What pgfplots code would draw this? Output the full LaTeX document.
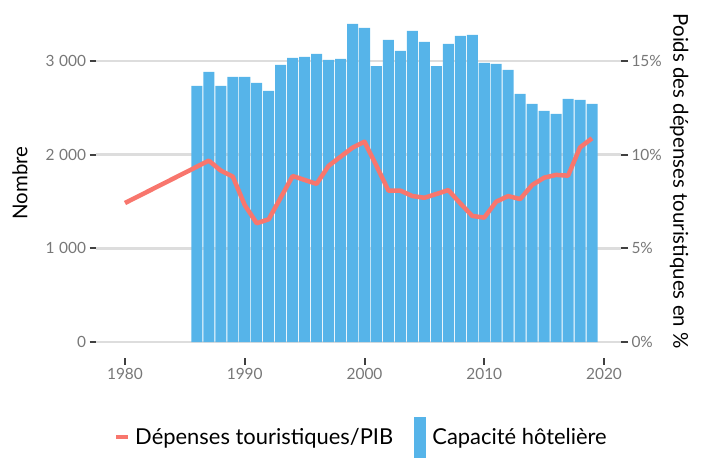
\documentclass[border=0pt]{standalone}
\usepackage{fontspec}
\setmainfont{Lato}
\usepackage{pgfplots}
\pgfplotsset{compat=1.18}
\definecolor{barblue}{HTML}{56B4E9}
\definecolor{linered}{HTML}{F8766D}
\definecolor{gridgray}{HTML}{DDDDDD}
\definecolor{tickgray}{HTML}{777777}
\newcommand{\ts}{\hspace{0.3em}}
\begin{document}
\begin{tikzpicture}
\pgfplotsset{
  common/.style={
    scale only axis, width=524.5bp, height=350bp,
    xmin=1977.62, xmax=2021.42,
    axis line style={draw=none},
    tick align=outside, major tick length=7bp,
    tick style={line width=2bp, color=black!75},
    ticklabel style={font=\fontsize{15.5}{18}\selectfont, text=tickgray},
    /pgf/number format/assume math mode=true,
    label style={font=\fontsize{20.5}{24}\selectfont},
  }
}
\begin{axis}[common,
  axis x line*=bottom, axis y line*=left,
  ymin=-170, ymax=3565,
  ytick={0,1000,2000,3000}, yticklabels={0,1\ts000,2\ts000,3\ts000},
  xtick={1980,1990,2000,2010,2020}, xticklabels={1980,1990,2000,2010,2020},
  ymajorgrids, grid style={gridgray, line width=2.5bp},
  ylabel={Nombre},
  ylabel style={at={(axis description cs:-0.146,0.50)}, anchor=center},
]
\addplot[ybar, bar width=0.92, fill=barblue, draw=none] coordinates {
(1986,2733) (1987,2882) (1988,2733) (1989,2829) (1990,2829) (1991,2765)
(1992,2680) (1993,2957) (1994,3032) (1995,3043) (1996,3075) (1997,3011)
(1998,3021) (1999,3395) (2000,3352) (2001,2946) (2002,3224) (2003,3107)
(2004,3320) (2005,3203) (2006,2946) (2007,3181) (2008,3267) (2009,3277)
(2010,2979) (2011,2968) (2012,2904) (2013,2648) (2014,2541) (2015,2466)
(2016,2434) (2017,2594) (2018,2584) (2019,2541)
};
\end{axis}
\begin{axis}[common,
  axis x line=none, axis y line*=right,
  ymin=-0.85, ymax=17.825,
  ytick={0,5,10,15}, yticklabels={0\%,5\%,10\%,15\%},
  ylabel={Poids des dépenses touristiques en \%},
  ylabel style={at={(axis description cs:1.111,0.505)}, anchor=center, rotate=180},
  legend style={at={(0.505,-0.226)}, anchor=center, draw=none, fill=none,
    legend columns=2, font=\fontsize{22}{24}\selectfont,
    /tikz/every even column/.append style={column sep=19bp}},
]
\addplot[linered, line width=4.5bp, line join=round,
  legend image code/.code={\draw[linered, line width=4.5bp] (0bp,0bp) -- (12bp,0bp); \path[draw=none,fill=none] (0bp,0bp) -- (17bp,0bp);}] coordinates {
(1980,7.42) (1987,9.68) (1988,9.15) (1989,8.83) (1990,7.31) (1991,6.34)
(1992,6.55) (1993,7.70) (1994,8.86) (1995,8.65) (1996,8.44) (1997,9.40)
(1998,9.89) (1999,10.37) (2000,10.69) (2001,9.40) (2002,8.08) (2003,8.08)
(2004,7.79) (2005,7.70) (2006,7.90) (2007,8.11) (2008,7.40) (2009,6.73)
(2010,6.64) (2011,7.49) (2012,7.79) (2013,7.63) (2014,8.38) (2015,8.77)
(2016,8.92) (2017,8.88) (2018,10.39) (2019,10.87)
};
\addlegendentry{Dépenses touristiques/PIB}
\addlegendimage{legend image code/.code={\fill[barblue] (0bp,-20bp) rectangle (11bp,20bp); \path[draw=none,fill=none] (0bp,0bp) -- (16bp,0bp);}}
\addlegendentry{Capacité hôtelière}
\end{axis}
\useasboundingbox (-96.5bp,-99bp) rectangle (608.5bp,358bp);
\end{tikzpicture}
\end{document}
